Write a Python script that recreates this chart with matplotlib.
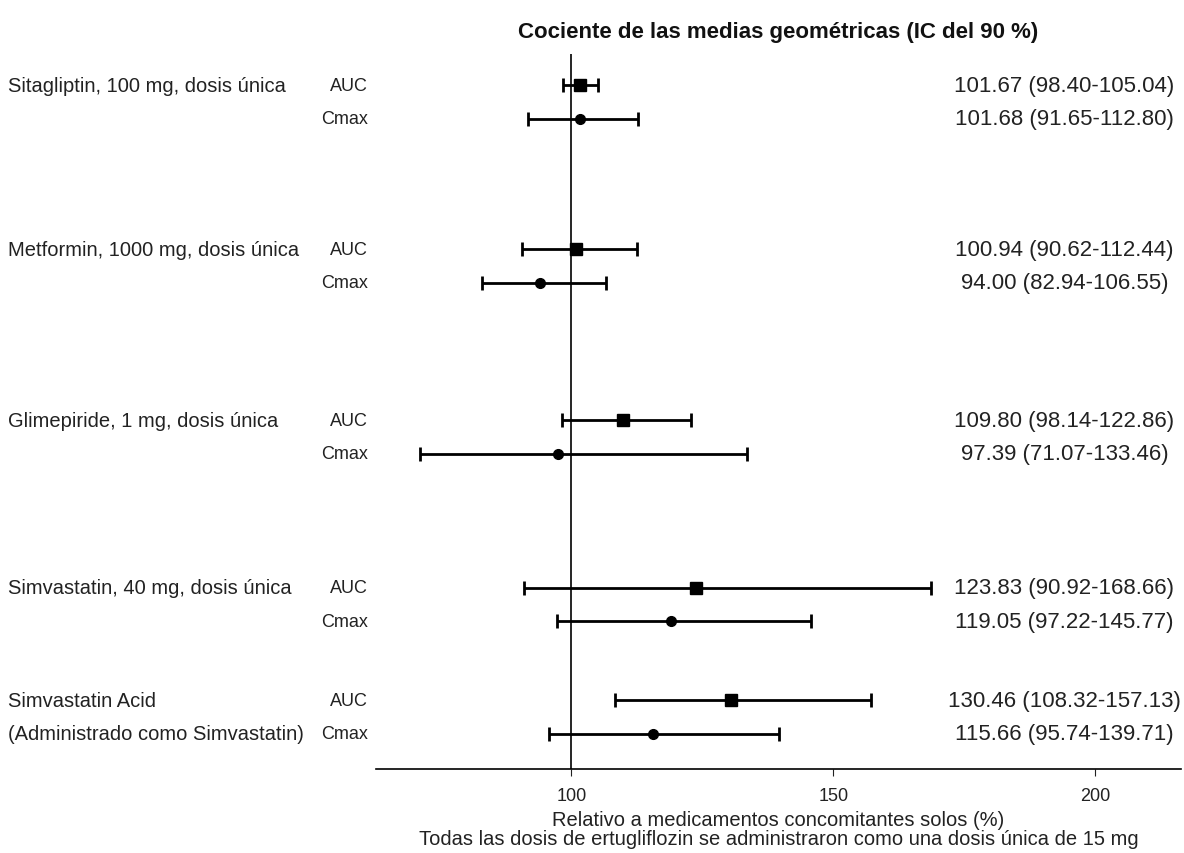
import numpy as np
import matplotlib.pyplot as plt
from matplotlib.transforms import blended_transform_factory

plt.rcParams['font.family'] = ['Liberation Sans', 'DejaVu Sans']

# Datos: cociente de medias geométricas (IC del 90 %)
farmacos = ["Sitagliptin, 100 mg, dosis única",
            "Metformin, 1000 mg, dosis única",
            "Glimepiride, 1 mg, dosis única",
            "Simvastatin, 40 mg, dosis única",
            "Simvastatin Acid"]
parametros = ["AUC", "Cmax"]
gmr = [101.67, 101.68, 100.94, 94.00, 109.80, 97.39, 123.83, 119.05, 130.46, 115.66]
ic_inf = [98.40, 91.65, 90.62, 82.94, 98.14, 71.07, 90.92, 97.22, 108.32, 95.74]
ic_sup = [105.04, 112.80, 112.44, 106.55, 122.86, 133.46, 168.66, 145.77, 157.13, 139.71]

# posiciones verticales de cada fila (layout)
y_pos = [0, 1, 4.9, 5.9, 10.0, 11.0, 15.0, 16.0, 18.35, 19.35]

fig = plt.figure(figsize=(11.84, 8.54), dpi=100)
ax = fig.add_axes([0.3176, 0.0984, 0.68, 0.8372])

gmr = np.array(gmr)
err = np.vstack([gmr - np.array(ic_inf), np.array(ic_sup) - gmr])
y = np.array(y_pos)

for i in range(len(gmr)):
    mk = 's' if i % 2 == 0 else 'o'
    ms = 8 if i % 2 == 0 else 7
    ax.errorbar(gmr[i], y[i], xerr=err[:, i:i+1], fmt=mk, color='black',
                ms=ms, elinewidth=2, capsize=5, capthick=2, zorder=3)
    ax.text(194.1, y[i], f"{gmr[i]:.2f} ({ic_inf[i]:.2f}-{ic_sup[i]:.2f})",
            ha='center', va='center', fontsize=16, color='#222222')

ax.axvline(100, color='black', lw=1.2, zorder=1)

ax.set_xlim(62.7, 216.4)
ax.set_ylim(20.4, -0.93)
ax.set_xticks([100, 150, 200])
ax.tick_params(axis='x', labelsize=13, colors='#222222', length=5, pad=8)
ax.set_yticks([])
for s in ['top', 'right', 'left']:
    ax.spines[s].set_visible(False)
ax.spines['bottom'].set_linewidth(1.2)

ax.set_xlabel("Relativo a medicamentos concomitantes solos (%)\n"
              "Todas las dosis de ertugliflozin se administraron como una dosis única de 15 mg",
              fontsize=14.5, color='#222222', labelpad=4, linespacing=1.02)
ax.set_title("Cociente de las medias geométricas (IC del 90 %)",
             fontsize=16, fontweight='bold', color='#111111', pad=12)

trans = blended_transform_factory(fig.transFigure, ax.transData)
for k, nombre in enumerate(farmacos):
    ax.text(0.0068, y[2 * k], nombre, transform=trans, ha='left', va='center',
            fontsize=14.5, color='#222222')
    for j, p in enumerate(parametros):
        ax.text(0.311, y[2 * k + j], p, transform=trans, ha='right', va='center',
                fontsize=13, color='#222222')
ax.text(0.0068, y[9], "(Administrado como Simvastatin)", transform=trans,
        ha='left', va='center', fontsize=14.5, color='#222222')

fig.savefig("out.png", dpi=100)
